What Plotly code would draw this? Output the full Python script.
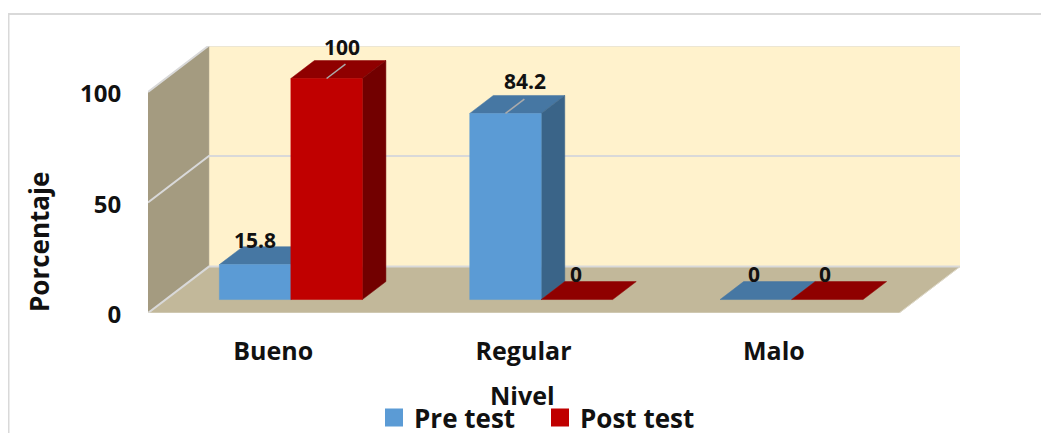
import plotly.graph_objects as go

niveles = ['Bueno', 'Regular', 'Malo']
pre_test = [15.8, 84.2, 0]
post_test = [100, 0, 0]
y_ticks = [0, 50, 100]

FONT = 'Open Sans'
TEXT = '#111111'

# oblique projection: depth 0 = front of the floor, depth 1 = back wall
DX = 0.2433   # shift in category units for full depth
DY = 21.0     # shift in value units for full depth
BAR_W = 0.2855
BAR_D0 = 0.29
BAR_D1 = 0.677
Y_TOP = 120.8

# the page body has an 8px margin, so the figure is sized to fit inside the window
WIDTH, HEIGHT = 1041, 425
M_L, M_R, M_T, M_B = 140, 89, 38, 120
PLOT_W = WIDTH - M_L - M_R
PLOT_H = HEIGHT - M_T - M_B


def paper_x(px):
    return (px - 8 - M_L) / PLOT_W


def paper_y(py):
    return (HEIGHT - M_B - (py - 8)) / PLOT_H


def proj(x, y, d):
    return x + d * DX, y + d * DY


def poly(fig, points, color):
    xs, ys = zip(*[proj(*p) for p in points])
    fig.add_trace(go.Scatter(x=list(xs) + [xs[0]], y=list(ys) + [ys[0]], mode='lines', fill='toself',
                             fillcolor=color, line=dict(width=0.5, color=color),
                             showlegend=False, hoverinfo='skip'))


def edge(fig, points, color='#D9D9D9', width=2):
    xs, ys = zip(*[proj(*p) for p in points])
    fig.add_trace(go.Scatter(x=xs, y=ys, mode='lines', line=dict(width=width, color=color),
                             showlegend=False, hoverinfo='skip'))


def bar(fig, x0, value, front, top, side):
    x1 = x0 + BAR_W
    poly(fig, [(x0, value, BAR_D0), (x1, value, BAR_D0), (x1, value, BAR_D1), (x0, value, BAR_D1)], top)
    if value > 0:
        poly(fig, [(x1, 0, BAR_D0), (x1, value, BAR_D0), (x1, value, BAR_D1), (x1, 0, BAR_D1)], side)
        poly(fig, [(x0, 0, BAR_D0), (x1, 0, BAR_D0), (x1, value, BAR_D0), (x0, value, BAR_D0)], front)


fig = go.Figure()

left, right = -0.5, len(niveles) - 0.5
# walls and floor
poly(fig, [(left, 0, 1), (right, 0, 1), (right, y_ticks[-1], 1), (left, y_ticks[-1], 1)], '#FFF2CC')
poly(fig, [(left, 0, 0), (left, y_ticks[-1], 0), (left, y_ticks[-1], 1), (left, 0, 1)], '#A49B80')
poly(fig, [(left, 0, 0), (right, 0, 0), (right, 0, 1), (left, 0, 1)], '#C2B89A')
for t in y_ticks:
    edge(fig, [(left, t, 0), (left, t, 1), (right, t, 1)])
edge(fig, [(left, 0, 0), (right, 0, 0), (right, 0, 1)], '#DDD8C8', 1)

for i in range(len(niveles)):
    bar(fig, i - BAR_W, pre_test[i], '#5B9BD5', '#4677A3', '#3A6488')
    bar(fig, i, post_test[i], '#C00000', '#8F0000', '#720000')

# data labels, with leader lines on the tall bars
labels = []
series = [(pre_test, -BAR_W, [(0, 25), (20, 32), (-2, 26)]),
          (post_test, 0, [(15, 32), (-1, 26), (-2, 26)])]
for values, offset, shifts in series:
    for i, v in enumerate(values):
        xc = i + offset + BAR_W / 2
        if v > 50:
            edge(fig, [(xc, v, BAR_D0), (xc, v, BAR_D0 + 0.31)], '#ABABAB', 1.5)
        cx, cy = proj(xc, v, BAR_D0)
        labels.append(dict(x=cx, y=cy, text=str(v), showarrow=False, xshift=shifts[i][0], yshift=shifts[i][1],
                           font=dict(family=FONT, size=21, color=TEXT, weight='bold')))

# legend entries
for name, color in [('Pre test', '#5B9BD5'), ('Post test', '#C00000')]:
    fig.add_trace(go.Scatter(x=[None], y=[None], mode='markers', name=name,
                             marker=dict(symbol='square', size=16, color=color, line=dict(width=2, color=color))))

labels.append(dict(text='Nivel', xref='paper', yref='paper', x=paper_x(522), y=paper_y(395),
                   xanchor='center', yanchor='middle', showarrow=False,
                   font=dict(family=FONT, size=25, color=TEXT, weight='bold')))
labels.append(dict(text='Porcentaje', xref='paper', yref='paper', x=paper_x(39), y=paper_y(242),
                   xanchor='center', yanchor='middle', showarrow=False, textangle=-90,
                   font=dict(family=FONT, size=26, color=TEXT, weight='bold')))

fig.update_layout(
    width=WIDTH, height=HEIGHT,
    margin=dict(l=M_L, r=M_R, t=M_T, b=M_B, pad=0),
    paper_bgcolor='white', plot_bgcolor='white',
    annotations=labels,
    legend=dict(orientation='h', xref='container', yref='container', x=(374 - 8) / WIDTH,
                y=1 - (394 - 8) / HEIGHT, xanchor='left', yanchor='top',
                entrywidth=121, entrywidthmode='pixels',
                font=dict(family=FONT, size=26, color=TEXT, weight='bold'),
                bgcolor='rgba(0,0,0,0)'),
    shapes=[dict(type='path', xref='paper', yref='paper',
                 path=f'M {paper_x(8.5)} {paper_y(440)} L {paper_x(8.5)} {paper_y(14)} L {paper_x(1060)} {paper_y(14)}',
                 line=dict(color='#D9D9D9', width=2))],
    xaxis=dict(range=[left, right + DX], tickvals=list(range(len(niveles))), ticktext=niveles,
               showgrid=False, zeroline=False, showline=False, ticks='outside', ticklen=16,
               tickcolor='rgba(0,0,0,0)', tickfont=dict(family=FONT, size=25, color=TEXT, weight='bold')),
    yaxis=dict(range=[0, Y_TOP], tickvals=y_ticks, showgrid=False, zeroline=False, showline=False,
               ticks='outside', ticklen=21, tickcolor='rgba(0,0,0,0)', ticklabelshift=2,
               tickfont=dict(family=FONT, size=24, color=TEXT, weight='bold')),
)

fig.write_html("out.html")
